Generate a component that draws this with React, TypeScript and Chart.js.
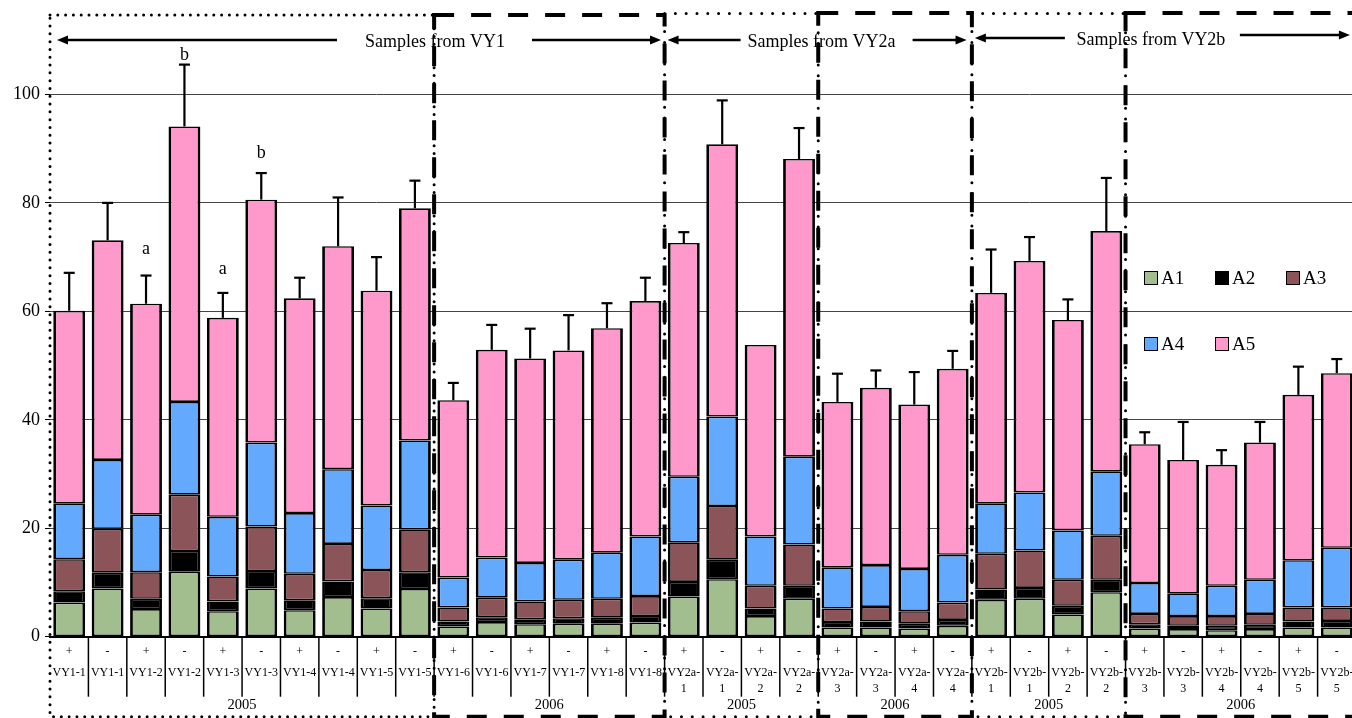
import React, { useEffect, useRef } from 'react';
import { Chart, registerables } from 'chart.js';

Chart.register(...registerables);

const FONT = "'Liberation Serif', 'Times New Roman', serif";

const signs = ['+','-','+','-','+','-','+','-','+','-','+','-','+','-','+','-','+','-','+','-','+','-','+','-','+','-','+','-','+','-','+','-','+','-'];
const sampleNames = [
  'VY1-1','VY1-1','VY1-2','VY1-2','VY1-3','VY1-3','VY1-4','VY1-4','VY1-5','VY1-5',
  'VY1-6','VY1-6','VY1-7','VY1-7','VY1-8','VY1-8',
  'VY2a-1','VY2a-1','VY2a-2','VY2a-2','VY2a-3','VY2a-3','VY2a-4','VY2a-4',
  'VY2b-1','VY2b-1','VY2b-2','VY2b-2','VY2b-3','VY2b-3','VY2b-4','VY2b-4','VY2b-5','VY2b-5'
];
const yearLabels = ['2005','2006','2005','2006','2005','2006'];
const yearSizes = [10, 6, 4, 4, 4, 6];
const sourceLabels = ['Samples from VY1','Samples from VY2a','Samples from VY2b'];
const sourceSizes = [16, 8, 10];
const seriesNames = ['A1','A2','A3','A4','A5'];
const seriesColors = ['#A2BE8F','#000000','#8B5458','#63AAFF','#FF99CC'];

const A1 = [6.3,8.9,5.1,12.0,4.7,8.9,4.9,7.3,5.2,8.8, 1.9,2.7,2.3,2.4,2.4,2.6, 7.4,10.6,3.8,7.0, 1.7,1.7,1.5,2.0, 6.8,7.0,4.1,8.2, 1.5,1.4,1.2,1.4,1.7,1.7];
const A2 = [2.1,2.9,1.9,3.8,1.8,3.2,1.8,2.9,1.9,3.1, 0.9,0.9,0.9,1.0,1.1,1.2, 2.7,3.6,1.4,2.4, 1.0,1.1,0.9,1.1, 1.9,2.0,1.6,2.3, 0.8,0.6,0.8,0.8,1.1,1.2];
const A3 = [5.9,8.1,4.9,10.4,4.6,8.2,4.9,6.9,5.2,7.9, 2.6,3.6,3.3,3.4,3.5,3.7, 7.3,9.9,4.2,7.6, 2.5,2.7,2.3,3.2, 6.6,6.9,4.8,8.1, 1.9,1.8,1.8,2.0,2.6,2.5];
const A4 = [10.3,12.7,10.6,17.1,11.0,15.5,11.2,13.8,11.9,16.4, 5.5,7.4,7.1,7.4,8.5,11.0, 12.1,16.5,9.1,16.2, 7.6,7.7,7.8,8.8, 9.3,10.7,9.1,11.9, 5.7,4.2,5.6,6.3,8.7,11.0];
const A5 = [35.5,40.5,38.9,50.8,36.7,44.8,39.6,41.1,39.6,42.8, 32.7,38.3,37.7,38.6,41.4,43.4, 43.1,50.2,35.3,54.9, 30.5,32.7,30.3,34.3, 38.8,42.7,38.8,44.3, 25.6,24.6,22.3,25.3,30.5,32.2];
const errorUp = [7.0,6.9,5.2,11.4,4.6,4.9,3.8,9.0,6.2,5.1, 3.2,4.6,5.5,6.5,4.6,4.3, 2.0,8.1,0,5.7, 5.2,3.2,6.0,3.3, 8.0,4.4,3.8,9.8, 2.2,7.0,2.7,3.8,5.2,2.6];
const letterIdx = [2, 3, 4, 5];
const letterText = ['a', 'b', 'a', 'b'];
const letterValue = [70.5, 106.3, 66.8, 88.2];
const yTicks = [0, 20, 40, 60, 80, 100];

const seriesData = [A1, A2, A3, A4, A5];

function boundaryPx(xs: any, k: number) {
  return xs.getPixelForValue(k - 0.5);
}

function strokeRect(ctx: CanvasRenderingContext2D, l: number, t: number, r: number, b: number) {
  ctx.beginPath();
  ctx.moveTo(l, t); ctx.lineTo(r, t); ctx.lineTo(r, b); ctx.lineTo(l, b); ctx.closePath();
  ctx.stroke();
}

function arrow(ctx: CanvasRenderingContext2D, x1: number, x2: number, y: number) {
  const dir = x2 > x1 ? 1 : -1;
  ctx.beginPath();
  ctx.moveTo(x1, y); ctx.lineTo(x2 - dir * 9, y);
  ctx.stroke();
  ctx.beginPath();
  ctx.moveTo(x2, y); ctx.lineTo(x2 - dir * 11, y - 4.5); ctx.lineTo(x2 - dir * 11, y + 4.5); ctx.closePath();
  ctx.fill();
}

const overlay = {
  id: 'overlay',
  afterDatasetsDraw(chart: any) {
    const ctx: CanvasRenderingContext2D = chart.ctx;
    const xs = chart.scales.x; const ys = chart.scales.y;
    const n = chart.data.labels.length;
    ctx.save();
    ctx.strokeStyle = '#000'; ctx.lineWidth = 2.2;
    for (let i = 0; i < n; i++) {
      let total = 0;
      chart.data.datasets.forEach((d: any) => { total += d.data[i]; });
      if (!errorUp[i]) continue;
      const px = xs.getPixelForValue(i);
      const y0 = ys.getPixelForValue(total);
      const y1 = ys.getPixelForValue(total + errorUp[i]);
      ctx.beginPath(); ctx.moveTo(px, y0); ctx.lineTo(px, y1); ctx.stroke();
      ctx.beginPath(); ctx.moveTo(px - 5.5, y1); ctx.lineTo(px + 5.5, y1); ctx.stroke();
    }
    ctx.fillStyle = '#000';
    ctx.font = `18px ${FONT}`;
    ctx.textAlign = 'center'; ctx.textBaseline = 'alphabetic';
    letterIdx.forEach((idx, j) => {
      ctx.fillText(letterText[j], xs.getPixelForValue(idx), ys.getPixelForValue(letterValue[j]));
    });
    ctx.restore();
  },
  afterDraw(chart: any) {
    const ctx: CanvasRenderingContext2D = chart.ctx;
    const xs = chart.scales.x;
    const area = chart.chartArea;
    const bottom = area.bottom;
    const n = chart.data.labels.length;
    ctx.save();
    // category separators
    ctx.strokeStyle = '#000'; ctx.lineWidth = 1.5;
    for (let k = 1; k < n; k++) {
      const bx = boundaryPx(xs, k);
      ctx.beginPath(); ctx.moveTo(bx, bottom); ctx.lineTo(bx, bottom + 60); ctx.stroke();
    }
    // x labels
    ctx.fillStyle = '#000';
    ctx.textAlign = 'center'; ctx.textBaseline = 'middle';
    ctx.font = `12px ${FONT}`;
    for (let i = 0; i < n; i++) {
      const px = xs.getPixelForValue(i);
      ctx.fillText(signs[i], px, bottom + 15);
      const name = sampleNames[i];
      if (name.length > 5) {
        const cut = name.lastIndexOf('-') + 1;
        ctx.fillText(name.slice(0, cut), px, bottom + 36);
        ctx.fillText(name.slice(cut), px, bottom + 52);
      } else {
        ctx.fillText(name, px, bottom + 36);
      }
    }
    ctx.font = `14.5px ${FONT}`;
    let start = 0;
    const groupEdges: number[] = [boundaryPx(xs, 0)];
    yearLabels.forEach((lab, g) => {
      const end = start + yearSizes[g];
      const l = boundaryPx(xs, start), r = boundaryPx(xs, end);
      ctx.fillText(lab, (l + r) / 2, bottom + 68);
      groupEdges.push(r);
      start = end;
    });
    // boxes
    const boxBottom = bottom + 80;
    for (let g = 0; g < yearLabels.length; g++) {
      const l = groupEdges[g], r = groupEdges[g + 1];
      if (g % 2 === 0) {
        ctx.setLineDash([0, g === 0 ? 7.8 : 10.8]);
        ctx.lineCap = 'round';
        ctx.lineWidth = 3;
        strokeRect(ctx, l, g === 0 ? 15 : 13.5, r, boxBottom);
      }
    }
    for (let g = 0; g < yearLabels.length; g++) {
      const l = groupEdges[g], r = groupEdges[g + 1];
      if (g % 2 === 1) {
        ctx.setLineDash([20, 17]);
        ctx.lineCap = 'butt';
        ctx.lineWidth = 4;
        strokeRect(ctx, l, g === 1 ? 15 : 13, r, boxBottom);
      }
    }
    ctx.setLineDash([]);
    ctx.lineCap = 'butt';
    // source arrows and titles
    ctx.lineWidth = 2.5; ctx.strokeStyle = '#000'; ctx.fillStyle = '#000';
    ctx.font = `18px ${FONT}`;
    ctx.textBaseline = 'middle';
    const srcEdges = [boundaryPx(xs, 0)];
    let s = 0;
    sourceSizes.forEach((c) => { s += c; srcEdges.push(boundaryPx(xs, s)); });
    const layouts = [
      { la: [7, 287], tc: 385, ra: [482, 611], y: 40 },
      { la: [3, 76], tc: 157, ra: [248, 302], y: 40 },
      { la: [3, 93], tc: 179, ra: [268, 378], y: 38 },
    ];
    sourceLabels.forEach((lab, g) => {
      const l = srcEdges[g];
      const L = layouts[g];
      arrow(ctx, l + L.la[1], l + L.la[0], L.y);
      ctx.fillText(lab, l + L.tc, L.y + 2);
      arrow(ctx, l + L.ra[0], l + L.ra[1], g === 2 ? L.y - 3 : L.y);
    });
    // legend
    const legX = [1144, 1215, 1286];
    const legY = [271, 337];
    ctx.font = `19px ${FONT}`;
    ctx.textAlign = 'left'; ctx.textBaseline = 'middle';
    chart.data.datasets.forEach((d: any, i: number) => {
      const bx = legX[i % 3], by = legY[Math.floor(i / 3)];
      ctx.fillStyle = d.backgroundColor;
      ctx.fillRect(bx, by, 14, 14);
      ctx.strokeStyle = '#000'; ctx.lineWidth = 1;
      ctx.strokeRect(bx + 0.5, by + 0.5, 13, 13);
      ctx.fillStyle = '#000';
      ctx.fillText(d.label, bx + 17, by + 8);
    });
    ctx.restore();
  },
};

export default function App() {
  const ref = useRef<HTMLCanvasElement>(null);
  useEffect(() => {
    document.body.style.margin = '0';
    if (!ref.current) return;
    const chart = new Chart(ref.current, {
      type: 'bar',
      data: {
        labels: sampleNames.map((nm, i) => `${nm} ${signs[i]}`),
        datasets: seriesNames.map((nm, i) => ({
          label: nm,
          data: seriesData[i],
          backgroundColor: seriesColors[i],
          borderColor: '#000',
          borderWidth: { top: 1.6, bottom: 1.6, left: 2.8, right: 2.8 },
          borderSkipped: false,
          barPercentage: 0.83,
          categoryPercentage: 1,
        })),
      },
      options: {
        responsive: false,
        devicePixelRatio: 1,
        animation: false,
        layout: { padding: { top: 10, left: 0, right: 0, bottom: 0 } },
        plugins: { legend: { display: false }, tooltip: { enabled: false } },
        scales: {
          x: {
            stacked: true,
            grid: { display: false },
            border: { display: true, color: '#000', width: 2 },
            ticks: { display: false },
            afterFit: (s: any) => { s.height = 81.3; },
          },
          y: {
            stacked: true,
            min: 0,
            max: 114.5,
            afterBuildTicks: (s: any) => { s.ticks = yTicks.map((v) => ({ value: v })); },
            afterFit: (s: any) => { s.width = 50; },
            grid: { color: '#444', lineWidth: 1, tickLength: 5, tickColor: '#000', drawTicks: true },
            border: { display: false },
            ticks: { color: '#000', font: { family: FONT, size: 18 }, padding: 5 },
          },
        },
      },
      plugins: [overlay],
    } as any);
    return () => chart.destroy();
  }, []);
  return (
    <div style={{ position: 'fixed', left: 0, top: 0, width: 1352, height: 718, overflow: 'hidden', background: '#fff' }}>
      <canvas ref={ref} width={1356} height={718} style={{ display: 'block', width: 1356, height: 718 }} />
    </div>
  );
}
